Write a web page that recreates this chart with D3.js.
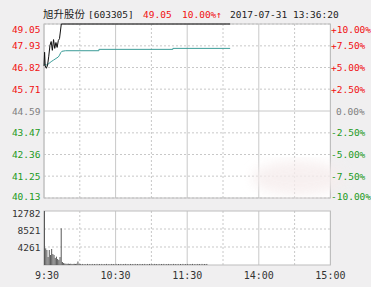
<!DOCTYPE html>
<html><head><meta charset="utf-8">
<script src="https://cdn.jsdelivr.net/npm/d3@7/dist/d3.min.js"></script>
<style>body{margin:0;background:#f0eff0;} svg{display:block}</style>
</head><body><svg id="c" width="371" height="287"></svg>
<script>
// ---- data ----
const stockName = "旭升股份 [603305]";
const lastPrice = "49.05";
const changePct = "10.00%↑";
const stamp = "2017-07-31 13:36:20";
const priceTicks = [49.05, 47.93, 46.82, 45.71, 44.59, 43.47, 42.36, 41.25, 40.13];
const pctLabels = ["+10.00%", "+7.50%", "+5.00%", "+2.50%", "0.00%", "-2.50%", "-5.00%", "-7.50%", "-10.00%"];
const timeLabels = ["9:30", "10:30", "11:30", "14:00", "15:00"];
const timeTickMinutes = [0, 60, 120, 180, 240];
const volTicks = [12782, 8521, 4261];
const priceMinutes = [0, 0.5, 1, 2, 3, 4, 5, 6, 7, 8, 9, 10, 11, 12, 13, 14.5, 156];
const priceValues = [46.90, 47.60, 46.90, 46.78, 46.95, 47.40, 47.95, 48.15, 47.70, 48.25, 47.80, 48.10, 47.85, 48.20, 48.30, 49.05, 49.05];
const avgMinutes = [0, 1, 2, 4, 6, 8, 10, 12, 13, 14, 15, 18, 46, 46, 108, 108, 156];
const avgValues = [47.00, 46.96, 46.95, 47.02, 47.12, 47.20, 47.28, 47.36, 47.45, 47.58, 47.65, 47.68, 47.68, 47.75, 47.75, 47.80, 47.80];
const volumes = [12782, 3950, 3550, 1890, 3550, 2370, 3790, 2600, 2370, 1660, 1970, 1420, 1180, 1890, 8690,
  710, 470, 350, 300, 280, 320, 260, 300, 240, 260, 280, 250, 300, 830, 260,
  240, 80, 250, 90, 240, 70, 260, 80, 240, 90, 250, 70, 240, 80, 260, 90, 240, 70, 250, 80,
  240, 90, 260, 70, 240, 80, 250, 90, 240, 70, 260, 80, 240, 90, 250, 70, 240, 80, 260, 90,
  240, 70, 250, 80, 240, 90, 260, 70, 240, 80, 250, 90, 240, 70, 260, 80, 240, 90, 250, 70,
  240, 80, 260, 90, 240, 70, 250, 80, 240, 90, 260, 70, 240, 80, 250, 90, 240, 70, 260, 80,
  240, 90, 250, 70, 240, 80, 260, 90, 240, 70, 250, 80, 240, 90, 260, 70, 240, 80, 250, 90,
  240, 70, 260, 80, 240, 90, 250];

// ---- layout ----
const L = 44, R = 330.4, T = 24, B = 198, VT = 211, VB = 265;
const svg = d3.select("#c");
const x = d3.scaleLinear().domain([0, 240]).range([L, R]);
const y = d3.scaleLinear().domain([40.13, 49.05]).range([B, T]);
const yv = d3.scaleLinear().domain([0, 12782]).range([VB, VT]);
const mono = "'DejaVu Sans Mono', monospace";
const red = "#f01010", green = "#1c9a1c", grayTxt = "#808080";

// watermark blob
const defs = svg.append("defs");
defs.append("filter").attr("id", "bl").append("feGaussianBlur").attr("stdDeviation", 6);

// plot backgrounds
svg.append("rect").attr("x", L).attr("y", T).attr("width", R - L).attr("height", B - T).attr("fill", "#fff");
svg.append("rect").attr("x", L).attr("y", VT).attr("width", R - L).attr("height", VB - VT).attr("fill", "#fff");

// grids
const vgrid = d3.range(0, 241, 30);
function grid(y0, y1, hvals, ys, solidH) {
  const g = svg.append("g");
  vgrid.forEach(m => {
    const solid = (m % 60 === 0);
    g.append("line").attr("x1", x(m)).attr("x2", x(m)).attr("y1", y0).attr("y2", y1)
      .attr("stroke", solid ? "#c8c8c8" : "#c8c8c8").attr("stroke-dasharray", solid ? null : "2,2");
  });
  hvals.forEach(v => {
    const yy = ys(v);
    g.append("line").attr("x1", L).attr("x2", R).attr("y1", yy).attr("y2", yy)
      .attr("stroke", "#c8c8c8").attr("stroke-dasharray", v === solidH ? null : "2,2");
  });
  g.append("rect").attr("x", L).attr("y", y0).attr("width", R - L).attr("height", y1 - y0)
    .attr("fill", "none").attr("stroke", "#bdbdbd");
}
grid(T, B, priceTicks, y, 44.59);
grid(VT, VB, volTicks.slice(1), yv, null);

svg.append("ellipse").attr("cx", 298).attr("cy", 178).attr("rx", 46).attr("ry", 17)
  .attr("fill", "#f6eded").attr("opacity", 0.8).attr("filter", "url(#bl)");

// price axis labels
const pos = (v, i) => {
  let yy = y(v);
  if (i === 0) yy = T + 5;
  if (i === priceTicks.length - 1) yy = B - 2;
  return yy + 1;
};
const colFor = v => v > 44.6 ? red : (v < 44.58 ? green : grayTxt);
svg.append("g").selectAll("text").data(priceTicks).join("text")
  .attr("x", 40.5).attr("y", (d, i) => pos(d, i)).attr("text-anchor", "end").attr("dominant-baseline", "middle")
  .attr("font-family", mono).attr("font-size", 9.5).attr("fill", colFor).text(d => d.toFixed(2));
svg.append("g").selectAll("text").data(pctLabels).join("text")
  .attr("x", (d, i) => d === "0.00%" ? 336 : 331).attr("y", (d, i) => pos(priceTicks[i], i))
  .attr("dominant-baseline", "middle").attr("font-family", mono).attr("font-size", 9.5)
  .attr("fill", (d, i) => colFor(priceTicks[i])).text(d => d);

// volume labels
svg.append("g").selectAll("text").data(volTicks).join("text")
  .attr("x", 40.5).attr("y", (d, i) => yv(d) + (i === 0 ? 3 : 2)).attr("text-anchor", "end").attr("dominant-baseline", "middle")
  .attr("font-family", mono).attr("font-size", 9.5).attr("fill", "#333").text(d => d);

// time labels
svg.append("g").selectAll("text").data(timeLabels).join("text")
  .attr("x", (d, i) => x(timeTickMinutes[i]) + (i === 0 ? 3 : 0)).attr("y", 276)
  .attr("text-anchor", "middle").attr("dominant-baseline", "middle")
  .attr("font-family", mono).attr("font-size", 10).attr("fill", "#333").text(d => d);

// volume bars
svg.append("g").selectAll("rect").data(volumes).join("rect")
  .attr("x", (d, i) => x(i)).attr("width", 1)
  .attr("y", d => yv(d)).attr("height", d => VB - yv(d)).attr("fill", "#5a5a5a");

// lines
const avgPts = avgMinutes.map((m, i) => [m, avgValues[i]]);
const pricePts = priceMinutes.map((m, i) => [m, priceValues[i]]);
const line = d3.line().x(d => x(d[0])).y(d => y(d[1]));
svg.append("path").attr("d", line(avgPts)).attr("fill", "none").attr("stroke", "#3b9c98").attr("stroke-width", 1);
svg.append("path").attr("d", line(pricePts)).attr("fill", "none").attr("stroke", "#111").attr("stroke-width", 1);

// header
const h = svg.append("g").attr("font-size", 9.5).attr("dominant-baseline", "middle");
h.append("text").attr("x", 43).attr("y", 15).attr("font-family", "'Noto Sans CJK SC'").attr("font-size", 10.5)
  .attr("fill", "#222").text(stockName.split(" ")[0]);
h.append("text").attr("x", 88).attr("y", 15).attr("font-family", mono).attr("fill", "#222").text(stockName.split(" ")[1]);
h.append("text").attr("x", 143).attr("y", 15).attr("font-family", mono).attr("fill", red).text(lastPrice);
h.append("text").attr("x", 182).attr("y", 15).attr("font-family", mono).attr("fill", red).text(changePct);
h.append("text").attr("x", 230).attr("y", 15).attr("font-family", mono).attr("fill", "#222").text(stamp);
</script></body></html>
